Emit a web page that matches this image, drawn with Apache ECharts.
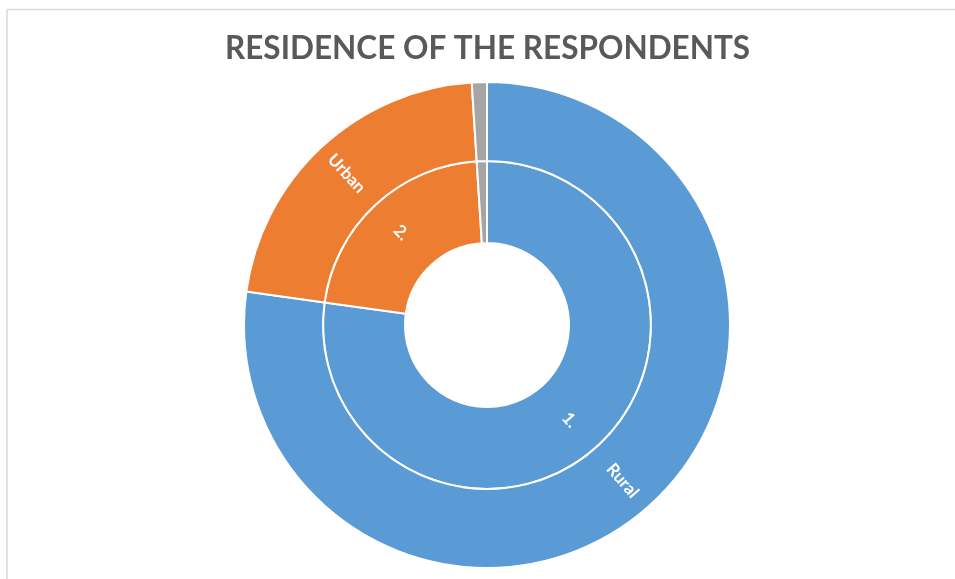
<!DOCTYPE html>
<html>
<head>
<meta charset="utf-8">
<script src="https://cdn.jsdelivr.net/npm/echarts@6/dist/echarts.min.js"></script>
<style>
html,body{margin:0;padding:0;background:#fff;}
#main{width:955px;height:579px;}
</style>
</head>
<body>
<div id="main"></div>
<script>
const categories = ['Rural', 'Urban', 'Other'];
const innerLabels = ['1.', '2.', ''];
const outerLabels = ['Rural', 'Urban', ''];
const values = [77.2, 21.8, 1.0];
const colors = ['#5B9BD5', '#ED7D31', '#A5A5A5'];
const titleText = 'RESIDENCE OF THE RESPONDENTS';

const chart = echarts.init(document.getElementById('main'));

function ringData(labels) {
  return categories.map((c, i) => ({
    name: c,
    value: values[i],
    label: { formatter: labels[i] },
    itemStyle: { color: colors[i] }
  }));
}

const commonLabel = {
  show: true,
  position: 'inside',
  rotate: 'radial',
  color: '#ffffff',
  fontFamily: 'Lato',
  fontWeight: 'bold',
  fontSize: 17
};

chart.setOption({
  animation: false,
  title: {
    text: titleText,
    left: 220,
    top: 28,
    textStyle: {
      fontFamily: 'Lato',
      fontWeight: 'bold',
      fontSize: 31.5,
      color: '#595959'
    }
  },
  graphic: [
    { type: 'line', shape: { x1: 7, y1: 9.5, x2: 955, y2: 9.5 }, style: { stroke: '#d9d9d9', lineWidth: 1.5 } },
    { type: 'line', shape: { x1: 7, y1: 9.5, x2: 7, y2: 579 }, style: { stroke: '#d9d9d9', lineWidth: 1.5 } }
  ],
  series: [
    {
      type: 'pie',
      center: [487, 325],
      radius: [82, 164],
      startAngle: 90,
      clockwise: true,
      avoidLabelOverlap: false,
      silent: true,
      itemStyle: { borderColor: '#ffffff', borderWidth: 2 },
      label: commonLabel,
      labelLine: { show: false },
      data: ringData(innerLabels)
    },
    {
      type: 'pie',
      center: [487, 325],
      radius: [164, 243],
      startAngle: 90,
      clockwise: true,
      avoidLabelOverlap: false,
      silent: true,
      itemStyle: { borderColor: '#ffffff', borderWidth: 2 },
      label: commonLabel,
      labelLine: { show: false },
      data: ringData(outerLabels)
    }
  ]
});
</script>
</body>
</html>
